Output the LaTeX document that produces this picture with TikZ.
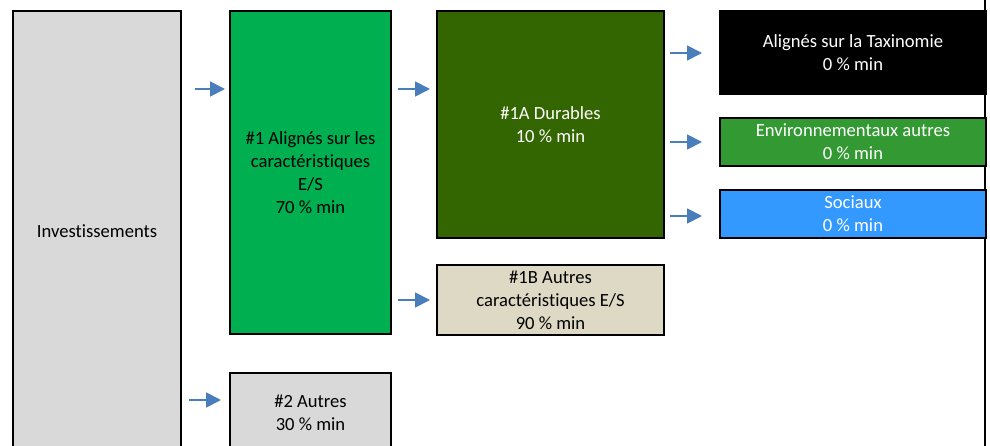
\documentclass[tikz,border=0pt]{standalone}
\usepackage{fontspec}
\setmainfont{Carlito}[Ligatures=NoCommon]
\usepackage{tikz}
\usetikzlibrary{arrows.meta,calc,positioning}
\definecolor{grisInv}{HTML}{D9D9D9}
\definecolor{vertES}{HTML}{00B050}
\definecolor{vertDur}{HTML}{336600}
\definecolor{beigeAutres}{HTML}{DDD9C4}
\definecolor{vertEnv}{HTML}{339933}
\definecolor{bleuSoc}{HTML}{3399FF}
\definecolor{bleuFleche}{HTML}{4A7EBB}
\tikzset{
  boite/.style={draw=black,line width=2pt,anchor=north west,align=center,inner sep=0pt,
    font=\fontsize{18.6}{23}\selectfont},
  fleche/.style={draw=bleuFleche,line width=1.8pt,-{Triangle[length=15pt,width=15pt]},fill=bleuFleche}
}

\begin{document}
\begin{tikzpicture}[x=1pt,y=-1pt]
\useasboundingbox (0,0) rectangle (990,446);
\clip (0,0) rectangle (990,446);
\draw[line width=2pt] (985,-5) coordinate(haut) -- (985,450) coordinate(bas);
\node[boite,fill=grisInv,minimum width=168,minimum height=440] (inv) at (12,10) {Investissements};
\node[boite,fill=vertES,minimum width=161,minimum height=323] (es) at (229,10) {\#1 Alignés sur les\\caractéristiques\\E/S\\70 \% min};
\node[boite,fill=grisInv,minimum width=161,minimum height=80] (autres) at (229,372) {\#2 Autres\\30 \% min};
\node[boite,fill=vertDur,text=white,minimum width=227,minimum height=227] (dur) at (436,10) {\#1A Durables\\10 \% min};
\node[boite,fill=beigeAutres,minimum width=227,minimum height=70] (car) at (436,264) {\#1B Autres\\caractéristiques E/S\\90 \% min};
\node[boite,fill=black,text=white,minimum width=266,minimum height=83] (tax) at (719,10) {Alignés sur la Taxinomie\\0 \% min};
\node[boite,fill=vertEnv,text=white,minimum width=266,minimum height=48] (env) at (719,117) {Environnementaux autres\\0 \% min};
\node[boite,fill=bleuSoc,text=white,minimum width=266,minimum height=48] (soc) at (719,189) {Sociaux\\0 \% min};
\coordinate (f1) at (195,89);
\coordinate (f2) at (189,400);
\coordinate (f3) at (398,89);
\coordinate (f4) at (398,300);
\coordinate (f5) at (670,53);
\coordinate (f6) at (670,142);
\coordinate (f7) at (670,216);
\draw[fleche,shorten >=4pt] (f1) -- (f1 -| es.west);
\draw[fleche,shorten >=8pt] (f2) -- (f2 -| autres.west);
\draw[fleche,shorten >=6pt] (f3) -- (f3 -| dur.west);
\draw[fleche,shorten >=6pt] (f4) -- (f4 -| car.west);
\draw[fleche,shorten >=17pt] (f5) -- (f5 -| tax.west);
\draw[fleche,shorten >=17pt] (f6) -- (f6 -| env.west);
\draw[fleche,shorten >=17pt] (f7) -- (f7 -| soc.west);
\end{tikzpicture}
\end{document}
